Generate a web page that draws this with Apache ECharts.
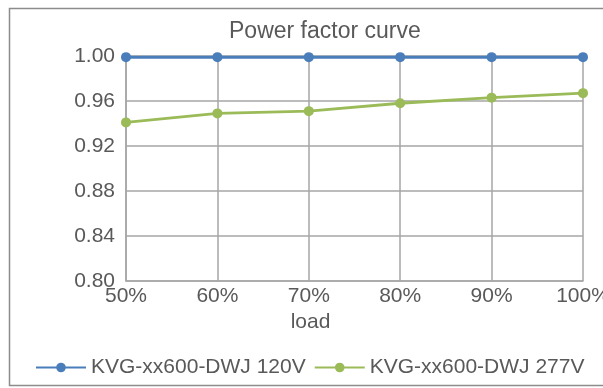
<!DOCTYPE html>
<html>
<head>
<meta charset="utf-8">
<style>
  html, body { margin: 0; padding: 0; background: #fff; }
  #chart { width: 603px; height: 388px; }
</style>
</head>
<body>
<div id="chart"></div>
<script src="https://cdn.jsdelivr.net/npm/echarts@6/dist/echarts.min.js"></script>
<script>
  // chart data
  var loads = ['50%', '60%', '70%', '80%', '90%', '100%'];
  var pf120 = [0.999, 0.999, 0.999, 0.999, 0.999, 0.999];
  var pf277 = [0.941, 0.949, 0.951, 0.958, 0.963, 0.967];

  var textColor = '#595959';
  var gridColor = '#a6a6a6';

  var chart = echarts.init(document.getElementById('chart'));
  chart.setOption({
    backgroundColor: '#fff',
    animation: false,
    textStyle: { fontFamily: 'Liberation Sans, Arial, sans-serif' },
    graphic: [{
      type: 'rect',
      shape: { x: 9.5, y: 8.5, width: 620, height: 377 },
      style: { fill: 'none', stroke: '#8c8c8c', lineWidth: 1.5 },
      silent: true
    }],
    title: {
      text: 'Power factor curve',
      left: 224,
      top: 15,
      textStyle: { color: textColor, fontSize: 23, fontWeight: 'normal' }
    },
    legend: {
      top: 352,
      left: 30,
      itemWidth: 50,
      itemHeight: 12,
      itemGap: 8,
      textStyle: { color: textColor, fontSize: 21 },
      data: ['KVG-xx600-DWJ 120V', 'KVG-xx600-DWJ 277V']
    },
    grid: { left: 126, right: 20, top: 56, bottom: 107, outerBoundsMode: 'none', containLabel: false },
    xAxis: {
      type: 'category',
      data: loads,
      boundaryGap: false,
      name: 'load',
      nameLocation: 'middle',
      nameGap: 26,
      nameTextStyle: { color: textColor, fontSize: 21, padding: [0, 88, 0, 0] },
      axisLine: { lineStyle: { color: gridColor, width: 1.5 } },
      axisTick: { show: false },
      axisLabel: { color: textColor, fontSize: 21, margin: 5 },
      splitLine: { show: true, lineStyle: { color: gridColor, width: 1.5 } }
    },
    yAxis: {
      type: 'value',
      min: 0.80,
      max: 1.00,
      interval: 0.04,
      axisLine: { show: true, lineStyle: { color: gridColor, width: 1.5 } },
      axisTick: { show: false },
      axisLabel: {
        color: textColor, fontSize: 21, margin: 11,
        formatter: function (v) { return v.toFixed(2); }
      },
      splitLine: { lineStyle: { color: gridColor, width: 1.5 } }
    },
    series: [{
      name: 'KVG-xx600-DWJ 120V',
      type: 'line',
      data: pf120,
      symbol: 'circle',
      symbolSize: 10,
      itemStyle: { color: '#4a7ebb' },
      lineStyle: { color: '#4a7ebb', width: 3 },
      z: 3
    }, {
      name: 'KVG-xx600-DWJ 277V',
      type: 'line',
      data: pf277,
      symbol: 'circle',
      symbolSize: 10,
      itemStyle: { color: '#9bbb59' },
      lineStyle: { color: '#9bbb59', width: 3 },
      z: 3
    }]
  });
</script>
</body>
</html>
